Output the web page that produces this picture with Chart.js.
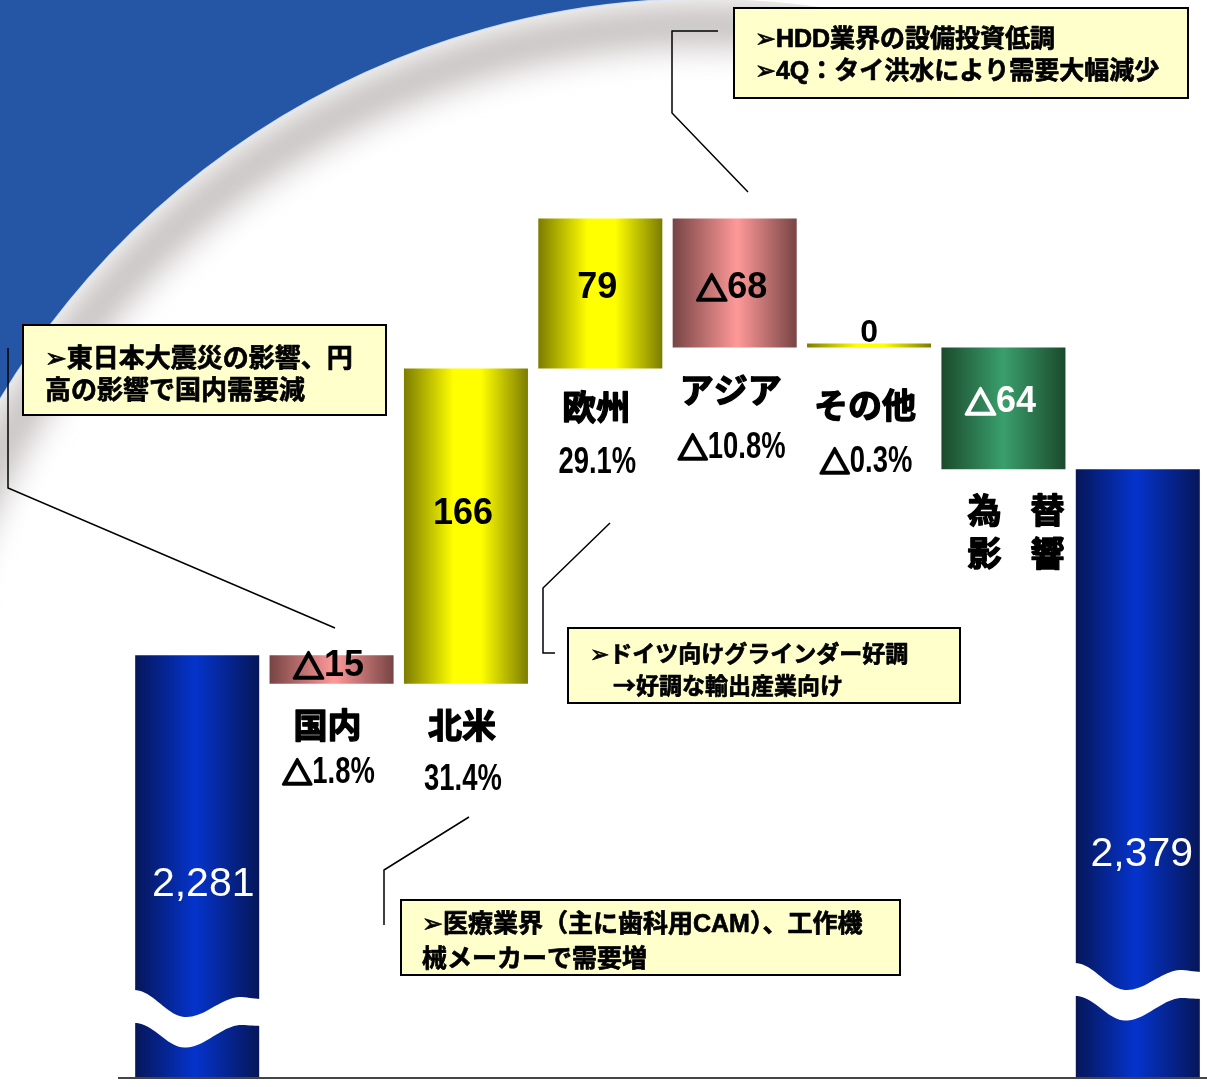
<!DOCTYPE html>
<html lang="ja">
<head>
<meta charset="utf-8">
<title>地域別売上高増減</title>
<script src="https://cdn.jsdelivr.net/npm/chart.js@4.4.1/dist/chart.umd.min.js"></script>
<style>
  html, body { margin: 0; padding: 0; background: #fff; }
  canvas { display: block; }
</style>
</head>
<body>
<canvas id="chart" width="1207" height="1087"></canvas>
<script>
// 前期・当期の売上高と、その間の地域別増減
const startTotal = 2281
const endTotal = 2379
const categories = ['前期', '国内', '北米', '欧州', 'アジア', 'その他', '為替影響', '当期']
const changes = [-15, 166, 79, -68, 0, -64]
const changeLabels = ['△15', '166', '79', '△68', '0', '△64']
const totalLabels = ['2,281', '2,379']
const growthRates = ['△1.8%', '31.4%', '29.1%', '△10.8%', '△0.3%']
const noteTexts = [
  ['➢東日本大震災の影響、円', '高の影響で国内需要減'],
  ['➢HDD業界の設備投資低調', '➢4Q：タイ洪水により需要大幅減少'],
  ['➢ドイツ向けグラインダー好調', '　→好調な輸出産業向け'],
  ['➢医療業界（主に歯科用CAM）、工作機', '械メーカーで需要増']
]

// 縦軸は途中で省略しているので下限を切り上げる
const axisMin = 2059
const axisMax = 2626

// 積み上げ式の浮動棒 [下端, 上端]
const bars = [[axisMin, startTotal]]
let running = startTotal
changes.forEach(c => {
  bars.push([running, running + c])
  running += c
})
bars.push([axisMin, endTotal])

const kinds = ['total', 'down', 'up', 'up', 'down', 'up', 'fx', 'total']
const shades = {
  total: [[0, '#061658'], [0.48, '#0534cc'], [1, '#061658']],
  down: [[0, '#774444'], [0.52, '#ff9999'], [1, '#774444']],
  up: [[0, '#7c7c00'], [0.4, '#ffff00'], [0.62, '#ffff00'], [1, '#7c7c00']],
  fx: [[0, '#1b4a2b'], [0.5, '#3a9f6c'], [1, '#1b4a2b']]
}
const BAR_FRACTION = 0.923

function barFill (ctx) {
  const stops = shades[kinds[ctx.dataIndex]] || shades.up
  const chart = ctx.chart
  const xs = chart.scales.x
  if (!chart.chartArea || !xs || ctx.type !== 'data') return stops[1][1]
  const cx = xs.getPixelForValue(ctx.dataIndex)
  const half = xs.width / categories.length * BAR_FRACTION / 2
  const g = chart.ctx.createLinearGradient(cx - half, 0, cx + half, 0)
  stops.forEach(([p, c]) => g.addColorStop(p, c))
  return g
}

const JP = '"Noto Sans CJK JP", "DejaVu Sans", sans-serif'
const MIX = '"Liberation Sans", "Noto Sans CJK JP", "DejaVu Sans", sans-serif'

function put (ctx, str, x, y, font, color, align = 'center', sx = 1, thick = 0) {
  ctx.save()
  ctx.font = font
  ctx.fillStyle = color
  ctx.strokeStyle = color
  ctx.textAlign = align
  ctx.textBaseline = 'middle'
  ctx.translate(x, y)
  ctx.scale(sx, 1)
  ctx.fillText(str, 0, 0)
  if (thick) {
    ctx.lineWidth = thick
    ctx.lineJoin = 'round'
    ctx.strokeText(str, 0, 0)
  }
  ctx.restore()
}

function textWidth (ctx, str, font) {
  ctx.save()
  ctx.font = font
  const w = ctx.measureText(str).width
  ctx.restore()
  return w
}

// △付きの数値：△だけ太い線で描き、数字は横幅を sx 倍に詰める
function delta (ctx, str, cx, cy, triFont, numFont, color, sx = 1) {
  const tri = str.startsWith('△') ? '△' : ''
  const rest = str.slice(tri.length)
  const wt = tri ? textWidth(ctx, tri, triFont) : 0
  const wr = textWidth(ctx, rest, numFont) * sx
  const x = cx - (wt + wr) / 2
  if (tri) put(ctx, tri, x, cy, triFont, color, 'left', 1, 2.6)
  put(ctx, rest, x + wt, cy, numFont, color, 'left', sx)
}

function heading (ctx, str, x, y) {
  put(ctx, str, x, y, 'bold 34px ' + JP, '#000', 'center', 1, 1.4)
}

function drawBackdrop (ctx, w, h) {
  const cx = 706
  const cy = 821
  const r = 822
  const a0 = -Math.PI / 2
  const a1 = -2.75
  ctx.save()
  ctx.fillStyle = '#fff'
  ctx.fillRect(0, 0, w, h)

  // 曲線の内側に落ちる淡い影
  ctx.save()
  ctx.beginPath()
  ctx.arc(cx, cy, r, 0, Math.PI * 2)
  ctx.clip()
  ctx.filter = 'blur(16px)'
  ctx.strokeStyle = 'rgba(160,150,150,0.6)'
  ctx.lineWidth = 42
  ctx.beginPath()
  ctx.arc(cx, cy, r - 26, a0 + 0.3, a1 - 0.15, true)
  ctx.stroke()
  ctx.restore()

  ctx.beginPath()
  ctx.moveTo(-60, 0)
  ctx.lineTo(cx, cy - r)
  ctx.arc(cx, cy, r, a0, a1, true)
  ctx.lineTo(-60, 0)
  ctx.closePath()
  ctx.fillStyle = '#2556a5'
  ctx.fill()

  ctx.beginPath()
  ctx.arc(cx, cy, r, a0 + 0.02, a1, true)
  ctx.strokeStyle = 'rgba(226,233,246,0.9)'
  ctx.lineWidth = 2
  ctx.stroke()
  ctx.restore()
}

function waveOffset (t) {
  if (t <= 0.41) return 27 * (1 - Math.cos(Math.PI * t / 0.41)) / 2
  if (t <= 0.85) return 27 - 20 * (1 - Math.cos(Math.PI * (t - 0.41) / 0.44)) / 2
  return 7 + 2 * (t - 0.85) / 0.15
}

// 省略記号（白い波線）
function drawBreak (ctx, left, right, y0) {
  const n = 48
  const w = right - left
  ctx.save()
  ctx.beginPath()
  for (let i = 0; i <= n; i++) {
    const t = i / n
    ctx.lineTo(left - 1 + (w + 2) * t, y0 + waveOffset(t))
  }
  for (let i = n; i >= 0; i--) {
    const t = i / n
    ctx.lineTo(left - 1 + (w + 2) * t, y0 + waveOffset(t) + 33 - 6 * t)
  }
  ctx.closePath()
  ctx.fillStyle = '#fff'
  ctx.fill()
  ctx.restore()
}

function drawNote (ctx, box, lines, path) {
  ctx.save()
  ctx.strokeStyle = '#000'
  ctx.lineWidth = 1.5
  ctx.beginPath()
  path.forEach(([x, y], i) => i ? ctx.lineTo(x, y) : ctx.moveTo(x, y))
  ctx.stroke()
  ctx.fillStyle = '#ffffcc'
  ctx.fillRect(box.x, box.y, box.w, box.h)
  ctx.lineWidth = 2
  ctx.strokeRect(box.x, box.y, box.w, box.h)
  ctx.restore()
  lines.forEach((s, i) => {
    const family = /[A-Za-z0-9]/.test(s) ? MIX : JP
    put(ctx, s, box.tx, box.y + box.ty + i * 32, 'bold ' + box.size + 'px ' + family, '#000', 'left', 1, 0.7)
  })
}

const decor = {
  id: 'decor',
  beforeDraw (chart) {
    drawBackdrop(chart.ctx, chart.width, chart.height)
  },
  afterDatasetsDraw (chart) {
    const ctx = chart.ctx
    const area = chart.chartArea
    const els = chart.getDatasetMeta(0).data

    // 省略波線
    const first = els[0]
    const last = els[els.length - 1]
    drawBreak(ctx, first.x - first.width / 2, first.x + first.width / 2, 990)
    drawBreak(ctx, last.x - last.width / 2, last.x + last.width / 2, 963)

    // 基線
    ctx.save()
    ctx.strokeStyle = '#444'
    ctx.lineWidth = 2
    ctx.beginPath()
    ctx.moveTo(118, area.bottom + 1)
    ctx.lineTo(chart.width, area.bottom + 1)
    ctx.stroke()
    ctx.restore()

    // 合計値
    put(ctx, totalLabels[0], first.x + 6, 885, '41px "Liberation Sans", sans-serif', '#fff')
    put(ctx, totalLabels[1], last.x + 4, 855, '41px "Liberation Sans", sans-serif', '#fff')

    // 増減値
    const valueFont = 'bold 36px "Liberation Sans", sans-serif'
    const triFont = 'bold 31px ' + JP
    const nudge = [-3, -12, -5, 5, 0, -6]
    changes.forEach((c, k) => {
      const el = els[k + 1]
      const top = Math.min(el.y, el.base)
      const bottom = Math.max(el.y, el.base)
      if (c === 0) {
        put(ctx, changeLabels[k], el.x, top - 10, 'bold 32px "Liberation Sans", sans-serif', '#000')
      } else {
        const color = kinds[k + 1] === 'fx' ? '#fff' : '#000'
        delta(ctx, changeLabels[k], el.x - 3, (top + bottom) / 2 + nudge[k], triFont, valueFont, color)
      }
    })

    // 地域名と伸び率
    const nameY = [725, 725, 407, 390, 405]
    const rateY = [773, 780, 463, 448, 462]
    growthRates.forEach((r, k) => {
      const el = els[k + 1]
      heading(ctx, categories[k + 1], el.x - 4, nameY[k])
      delta(ctx, r, el.x - 3, rateY[k], 'bold 30px ' + JP, 'bold 37px "Liberation Sans", sans-serif', '#000', 0.74)
    })
    const fx = els[6]
    const fxName = categories[6]
    heading(ctx, fxName[0], fx.x - 19, 510)
    heading(ctx, fxName[1], fx.x + 44, 510)
    heading(ctx, fxName[2], fx.x - 19, 553)
    heading(ctx, fxName[3], fx.x + 44, 553)

    // 注記
    drawNote(ctx, { x: 23, y: 325, w: 363, h: 90, tx: 45, ty: 32, size: 26 }, noteTexts[0],
      [[8, 348], [8, 488], [335, 628]])
    drawNote(ctx, { x: 734, y: 8, w: 454, h: 90, tx: 755, ty: 32, size: 25 }, noteTexts[1],
      [[718, 31], [672, 31], [672, 113], [748, 192]])
    drawNote(ctx, { x: 568, y: 628, w: 392, h: 75, tx: 590, ty: 25, size: 23 }, noteTexts[2],
      [[610, 523], [543, 588], [543, 653], [555, 653]])
    drawNote(ctx, { x: 401, y: 900, w: 499, h: 75, tx: 422, ty: 25, size: 25 }, noteTexts[3],
      [[469, 817], [384, 870], [384, 925]])
  }
}

new Chart(document.getElementById('chart'), {
  type: 'bar',
  data: {
    labels: categories,
    datasets: [{
      data: bars,
      backgroundColor: barFill,
      borderWidth: 0,
      barPercentage: BAR_FRACTION,
      categoryPercentage: 1,
      minBarLength: 4
    }]
  },
  options: {
    responsive: false,
    animation: false,
    layout: { padding: { left: 130, right: 2, top: 0, bottom: 10 } },
    scales: {
      x: { display: false },
      y: { display: false, min: axisMin, max: axisMax }
    },
    plugins: {
      legend: { display: false },
      tooltip: { enabled: false }
    }
  },
  plugins: [decor]
})
</script>
</body>
</html>
